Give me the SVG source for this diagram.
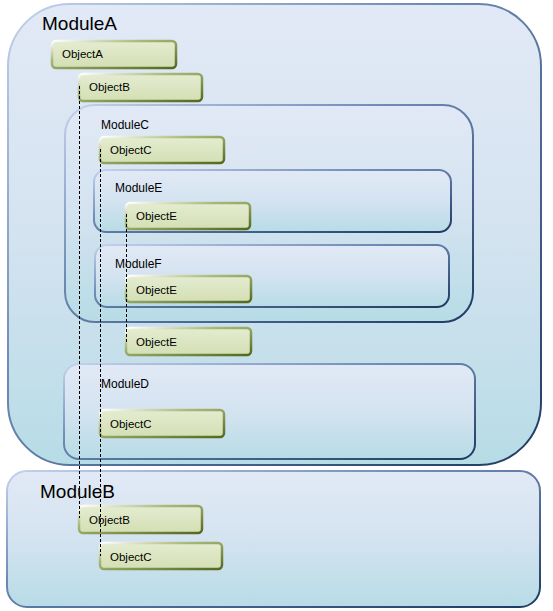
<svg xmlns="http://www.w3.org/2000/svg" width="553" height="611" viewBox="0 0 553 611">
<defs>
<linearGradient id="modFill" x1="0" y1="0" x2="0" y2="1">
<stop offset="0" stop-color="#e2e9f6"/>
<stop offset="0.5" stop-color="#d4e3f0"/>
<stop offset="1" stop-color="#b7dce6"/>
</linearGradient>
<linearGradient id="modStroke" x1="0" y1="0" x2="1" y2="1">
<stop offset="0" stop-color="#c4d2ec"/>
<stop offset="0.4" stop-color="#6d8ab4"/>
<stop offset="1" stop-color="#1f3a60"/>
</linearGradient>
<linearGradient id="objFill" x1="0" y1="0" x2="0" y2="1">
<stop offset="0" stop-color="#e4ecd0"/>
<stop offset="1" stop-color="#d3dfb4"/>
</linearGradient>
<linearGradient id="objStroke" x1="0" y1="0" x2="1" y2="1">
<stop offset="0" stop-color="#ffffff"/>
<stop offset="0.35" stop-color="#a9b97a"/>
<stop offset="1" stop-color="#55681e"/>
</linearGradient>
</defs>
<style>
.mod{fill:url(#modFill);stroke:url(#modStroke);stroke-width:2}
.obj{fill:url(#objFill);stroke:url(#objStroke);stroke-width:2.5}
.big{font-family:"Liberation Sans",Arial,sans-serif;font-size:19px;fill:#000}
.lbl{font-family:"Liberation Sans",Arial,sans-serif;font-size:12px;fill:#000}
.ot{font-family:"Liberation Sans",Arial,sans-serif;font-size:11.5px;fill:#000}
.dash{fill:none;stroke:#000;stroke-width:1;stroke-dasharray:3,2}
</style>
<g id="ModuleA">
<rect class="mod" x="8" y="4" width="533" height="461" rx="62" ry="62"/>
<text class="big" x="42" y="30">ModuleA</text>
</g>
<g id="ObjectA">
<rect class="obj" x="52" y="41" width="124" height="27" rx="4"/>
<text class="ot" x="62" y="58">ObjectA</text>
</g>
<g id="ObjectB_A">
<rect class="obj" x="79" y="74" width="123" height="27" rx="4"/>
<text class="ot" x="89" y="91">ObjectB</text>
</g>
<g id="ModuleC">
<rect class="mod" x="65" y="105" width="408" height="217" rx="30" ry="30"/>
<text class="lbl" x="101" y="129">ModuleC</text>
</g>
<g id="ObjectC_C">
<rect class="obj" x="100" y="137" width="124" height="26" rx="4"/>
<text class="ot" x="110" y="154">ObjectC</text>
</g>
<g id="ModuleE">
<rect class="mod" x="94" y="170" width="357" height="62" rx="12" ry="12"/>
<text class="lbl" x="115" y="192">ModuleE</text>
</g>
<g id="ObjectE_E">
<rect class="obj" x="126" y="203" width="124" height="26" rx="4"/>
<text class="ot" x="136" y="220">ObjectE</text>
</g>
<g id="ModuleF">
<rect class="mod" x="95" y="245" width="354" height="62" rx="12" ry="12"/>
<text class="lbl" x="115" y="268">ModuleF</text>
</g>
<g id="ObjectE_F">
<rect class="obj" x="126" y="276" width="125" height="26" rx="4"/>
<text class="ot" x="136" y="294">ObjectE</text>
</g>
<g id="ObjectE_A">
<rect class="obj" x="126" y="328" width="125" height="27" rx="4"/>
<text class="ot" x="136" y="346">ObjectE</text>
</g>
<g id="ModuleD">
<rect class="mod" x="64" y="364" width="411" height="95" rx="15" ry="15"/>
<text class="lbl" x="101" y="388">ModuleD</text>
</g>
<g id="ObjectC_D">
<rect class="obj" x="100" y="410" width="124" height="27" rx="4"/>
<text class="ot" x="110" y="428">ObjectC</text>
</g>
<g id="ModuleB">
<rect class="mod" x="7" y="471" width="533" height="136" rx="20" ry="20"/>
<text class="big" x="40" y="498">ModuleB</text>
</g>
<g id="ObjectB_B">
<rect class="obj" x="79" y="506" width="123" height="27" rx="4"/>
<text class="ot" x="89" y="524">ObjectB</text>
</g>
<g id="ObjectC_B">
<rect class="obj" x="100" y="543" width="122" height="26" rx="4"/>
<text class="ot" x="110" y="561">ObjectC</text>
</g>
<g id="connectors">
<line class="dash" x1="79.5" y1="86" x2="79.5" y2="518"/>
<line class="dash" x1="100.5" y1="149" x2="100.5" y2="556"/>
<line class="dash" x1="126.5" y1="214" x2="126.5" y2="342"/>
</g>
</svg>
